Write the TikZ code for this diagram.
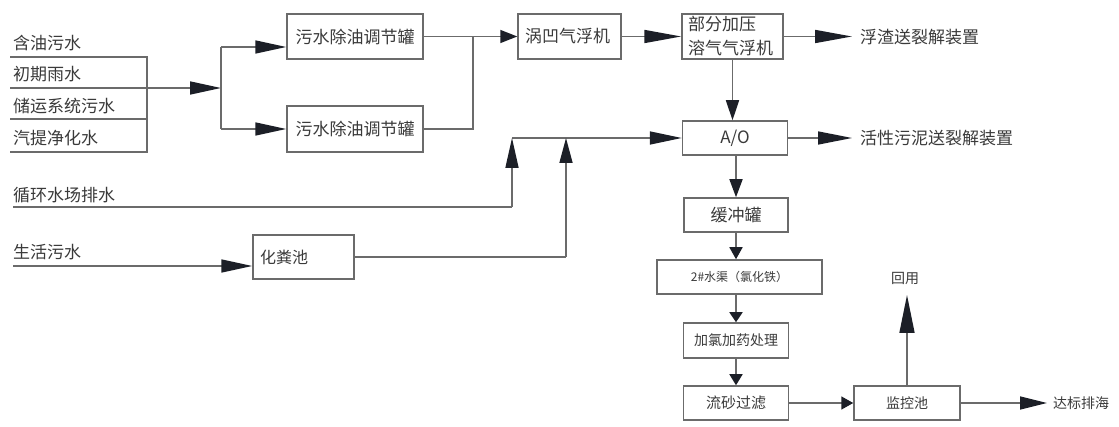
\documentclass[tikz,border=0pt]{standalone}
\usepackage{fontspec}
\newfontfamily\cjk{Noto Sans CJK SC}
\usetikzlibrary{arrows.meta}
\definecolor{linec}{HTML}{6B6B6B}
\definecolor{arrc}{HTML}{1C1F27}
\definecolor{txtc}{HTML}{3A3A3A}
\begin{document}
\begin{tikzpicture}[x=1pt,y=-1pt,
  ln/.style={draw=linec,line width=1.6pt},
  ar/.style={ln,-{Triangle[length=#1,width=13pt,color=arrc]}},
  box/.style={draw=linec,line width=1.5pt,text=txtc,inner sep=0pt,
    font=\cjk\fontsize{17}{20}\selectfont},
  lbl/.style={text=txtc,inner sep=0pt,anchor=west,
    font=\cjk\fontsize{17}{20}\selectfont}]
\fill[white] (0,0) rectangle (1119,427);
\useasboundingbox (0,0) rectangle (1119,427);

% boxes
\node[box,minimum width=136pt,minimum height=45pt] (t1) at (355,36.5) {污水除油调节罐};
\node[box,minimum width=136pt,minimum height=46pt] (t2) at (355,129) {污水除油调节罐};
\node[box,minimum width=103pt,minimum height=45pt,text width=89pt,align=left] (wo) at (569.5,36.5) {涡凹气浮机};
\node[box,minimum width=101pt,minimum height=45pt,text width=89pt,align=left,
  font=\cjk\fontsize{17}{24}\selectfont] (bf) at (732.5,36.5) {部分加压\\溶气气浮机};
\node[box,minimum width=105pt,minimum height=34pt] (ao) at (735,138) {A/O};
\node[box,minimum width=104pt,minimum height=34pt] (hc) at (736,215) {缓冲罐};
\node[box,minimum width=165pt,minimum height=34pt,font=\cjk\fontsize{12}{14}\selectfont] (qs) at (739.5,277) {2\#水渠（氯化铁）};
\node[box,minimum width=105pt,minimum height=35pt,font=\cjk\fontsize{14}{16}\selectfont] (jl) at (736,340.5) {加氯加药处理};
\node[box,minimum width=105pt,minimum height=34pt,font=\cjk\fontsize{15}{17}\selectfont] (ls) at (736,403) {流砂过滤};
\node[box,minimum width=106pt,minimum height=34pt,font=\cjk\fontsize{14}{16}\selectfont] (jk) at (907,403) {监控池};
\node[box,minimum width=101pt,minimum height=44pt,text width=87pt,align=left,
  font=\cjk\fontsize{16}{18}\selectfont] (hf) at (303.5,257) {化粪池};

% labels
\node[lbl] (l1) at (13,43) {含油污水};
\node[lbl] (l2) at (13,74) {初期雨水};
\node[lbl] (l3) at (13,106) {储运系统污水};
\node[lbl] (l4) at (13,138) {汽提净化水};
\node[lbl] (l5) at (13,195) {循环水场排水};
\node[lbl] (l6) at (13,252) {生活污水};
\node[lbl] (fz) at (860,37) {浮渣送裂解装置};
\node[lbl] (hx) at (860,138) {活性污泥送裂解装置};
\node[lbl,anchor=center,font=\cjk\fontsize{14}{16}\selectfont] (hy) at (905,279) {回用};
\node[lbl,font=\cjk\fontsize{14}{16}\selectfont] (db) at (1053,403) {达标排海};

% coordinates
\coordinate (a1) at (10,57);  \coordinate (a1e) at (147,57);
\coordinate (a2) at (10,88);  \coordinate (j1) at (221,88);
\coordinate (a3) at (10,119); \coordinate (a3e) at (147,119);
\coordinate (a4) at (10,152); \coordinate (a4e) at (147,152);
\coordinate (j1t) at (221,47); \coordinate (j1b) at (221,129);
\coordinate (j2t) at (473,36.5); \coordinate (j2b) at (473,129);
\coordinate (c1) at (13,207); \coordinate (c1c) at (512,207); \coordinate (c1t) at (512,138);
\coordinate (s1) at (13,266);
\coordinate (s2c) at (566,257); \coordinate (s2t) at (566,138);
\coordinate (hyb) at (907,295);
\coordinate (fze) at (852,36.5);
\coordinate (hxe) at (852,138);
\coordinate (dbe) at (1047,403);

% connectors
\draw[ln] (a1) -- (a1e) -- (a4e) -- (a4);
\draw[ln] (a3) -- (a3e);
\draw[ar=31pt] (a2) -- (j1);
\draw[ln] (j1t) -- (j1b);
\draw[ar=31pt] (j1t) -- (j1t -| t1.west);
\draw[ar=31pt] (j1b) -- (j1b -| t2.west);
\draw[ln] (t1.east) -- (j2t) -- (j2b) -- (t2.east);
\draw[ar=17pt] (j2t) -- (wo.west);
\draw[ar=37pt] (wo.east) -- (bf.west);
\draw[ar=37pt] (bf.east) -- (fze);
\draw[ar=20pt] (bf.south) -- (bf.south |- ao.north);
\draw[ar=34pt] (ao.east) -- (hxe);
\draw[ar=32pt] (c1t) -- (ao.west);
\draw[ln] (c1) -- (c1c);
\draw[ar=30pt] (c1c) -- (c1t);
\draw[ar=31pt] (s1) -- (s1 -| hf.west);
\draw[ln] (hf.east) -- (s2c);
\draw[ar=25pt] (s2c) -- (s2t);
\draw[ar=18pt] (hc.north |- ao.south) -- (hc.north);
\draw[ar=12pt] (hc.south) -- (hc.south |- qs.north);
\draw[ar=10pt] (hc.south |- qs.south) -- (jl.north);
\draw[ar=11pt] (jl.south) -- (ls.north);
\draw[ar=12pt] (ls.east) -- (jk.west);
\draw[ln,-{Triangle[length=38pt,width=15pt,color=arrc]}] (jk.north) -- (hyb);
\draw[ar=27pt] (jk.east) -- (dbe);
\end{tikzpicture}
\end{document}
